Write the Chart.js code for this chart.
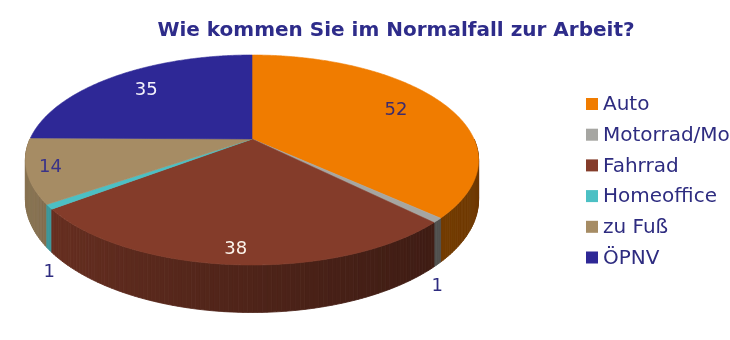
<!DOCTYPE html>
<html lang="de">
<head>
<meta charset="utf-8">
<title>Wie kommen Sie im Normalfall zur Arbeit?</title>
<script src="https://cdn.jsdelivr.net/npm/chart.js@4.4.1/dist/chart.umd.min.js"></script>
<style>
  html, body { margin: 0; padding: 0; background: #fff; overflow: hidden; }
  #wrap { width: 730px; height: 340px; }
</style>
</head>
<body>
<div id="wrap"><canvas id="chart" width="730" height="340"></canvas></div>
<script>
// survey answers
const categories = ["Auto", "Motorrad/Moped", "Fahrrad", "Homeoffice", "zu Fuß", "ÖPNV"];
const answers = [52, 1, 38, 1, 14, 35];

// styling
const sliceColors = ["#f07c00", "#a6a6a2", "#843c2a", "#4cc0c4", "#a68c64", "#2e2896"];
const labelColors = ["#3d2c6c", "#2f2b85", "#fbf3ea", "#2f2b85", "#3a3388", "#f4f2fb"];
const textColor = "#2e2c80";
const FONT = "'DejaVu Sans', Verdana, sans-serif";

// tilted pie geometry (perspective view of a flat disc)
const PIE = { cx: 252, cy: 139, rx: 222, ry: 100.8, persp: 0.2, depth: 38 };

function project(angle, f, drop) {
  const z = f * Math.sin(angle);
  const k = 1 / (1 - PIE.persp * z);
  return {
    x: PIE.cx + PIE.rx * f * Math.cos(angle) * k,
    y: PIE.cy + (PIE.ry * f * Math.sin(angle) + (drop || 0)) * k
  };
}

function darken(hex, factor) {
  const n = parseInt(hex.slice(1), 16);
  const r = Math.round(((n >> 16) & 255) * factor);
  const g = Math.round(((n >> 8) & 255) * factor);
  const b = Math.round((n & 255) * factor);
  return `rgb(${r},${g},${b})`;
}

const pie3d = {
  id: "pie3d",
  beforeDatasetsDraw(chart) {
    const ctx = chart.ctx;
    const arcs = chart.getDatasetMeta(0).data;
    const step = Math.PI / 180;

    // side wall, cut into thin strips so the front ones paint last
    const strips = [];
    arcs.forEach(arc => {
      const a0 = Math.max(arc.startAngle, 0);
      const a1 = Math.min(arc.endAngle, Math.PI);
      if (a1 <= a0) return;
      const n = Math.ceil((a1 - a0) / step);
      for (let j = 0; j < n; j++) {
        strips.push({
          s: a0 + (a1 - a0) * j / n,
          e: a0 + (a1 - a0) * (j + 1) / n,
          color: arc.options.backgroundColor
        });
      }
    });
    strips.sort((p, q) => Math.sin((p.s + p.e) / 2) - Math.sin((q.s + q.e) / 2));

    ctx.save();
    strips.forEach(st => {
      const m = (st.s + st.e) / 2;
      const shade = 0.46 + 0.38 * Math.pow((1 - Math.cos(m)) / 2, 1.5);
      const fill = darken(st.color, shade);
      const p0 = project(st.s, 1), p1 = project(st.e, 1);
      const q1 = project(st.e, 1, PIE.depth), q0 = project(st.s, 1, PIE.depth);
      ctx.beginPath();
      ctx.moveTo(p0.x, p0.y);
      ctx.lineTo(p1.x, p1.y);
      ctx.lineTo(q1.x, q1.y);
      ctx.lineTo(q0.x, q0.y);
      ctx.closePath();
      ctx.fillStyle = fill;
      ctx.strokeStyle = fill;
      ctx.lineWidth = 0.8;
      ctx.fill();
      ctx.stroke();
    });

    // top face
    arcs.forEach(arc => {
      const c = project(0, 0);
      ctx.beginPath();
      ctx.moveTo(c.x, c.y);
      const n = Math.max(2, Math.ceil((arc.endAngle - arc.startAngle) / (step / 2)));
      for (let j = 0; j <= n; j++) {
        const p = project(arc.startAngle + (arc.endAngle - arc.startAngle) * j / n, 1);
        ctx.lineTo(p.x, p.y);
      }
      ctx.closePath();
      ctx.fillStyle = arc.options.backgroundColor;
      ctx.strokeStyle = arc.options.backgroundColor;
      ctx.lineWidth = 0.6;
      ctx.fill();
      ctx.stroke();
    });
    ctx.restore();
    return false;
  },
  afterDraw(chart) {
    const ctx = chart.ctx;
    const arcs = chart.getDatasetMeta(0).data;
    ctx.save();

    // value labels: inside for big slices (further out towards the front), below the rim for tiny ones
    ctx.font = `18px ${FONT}`;
    ctx.textAlign = "center";
    ctx.textBaseline = "middle";
    arcs.forEach((arc, i) => {
      const mid = (arc.startAngle + arc.endAngle) / 2;
      let p;
      if (answers[i] >= 5) {
        p = project(mid, Math.sin(mid) > 0 ? 0.9 : 0.75);
      } else {
        p = project(mid, 1, PIE.depth);
        p.y += 22;
      }
      ctx.fillStyle = answers[i] >= 5 ? labelColors[i] : textColor;
      ctx.fillText(String(answers[i]), p.x, p.y);
    });

    // legend
    ctx.font = `20px ${FONT}`;
    ctx.textAlign = "left";
    categories.forEach((name, i) => {
      const y = 104 + i * 30.7;
      ctx.fillStyle = sliceColors[i];
      ctx.fillRect(586, y - 6, 12, 12);
      ctx.fillStyle = textColor;
      ctx.fillText(name, 603, y + 1);
    });
    ctx.restore();
  }
};

new Chart(document.getElementById("chart"), {
  type: "pie",
  data: {
    labels: categories,
    datasets: [{
      data: answers,
      backgroundColor: sliceColors,
      borderWidth: 0
    }]
  },
  options: {
    responsive: false,
    animation: false,
    events: [],
    layout: { padding: { left: 62 } },
    plugins: {
      legend: { display: false },
      tooltip: { enabled: false },
      title: {
        display: true,
        text: "Wie kommen Sie im Normalfall zur Arbeit?",
        color: "#2e2c8a",
        font: { family: FONT, size: 20, weight: "bold" },
        padding: { top: 19, bottom: 10 }
      }
    }
  },
  plugins: [pie3d]
});
</script>
</body>
</html>
